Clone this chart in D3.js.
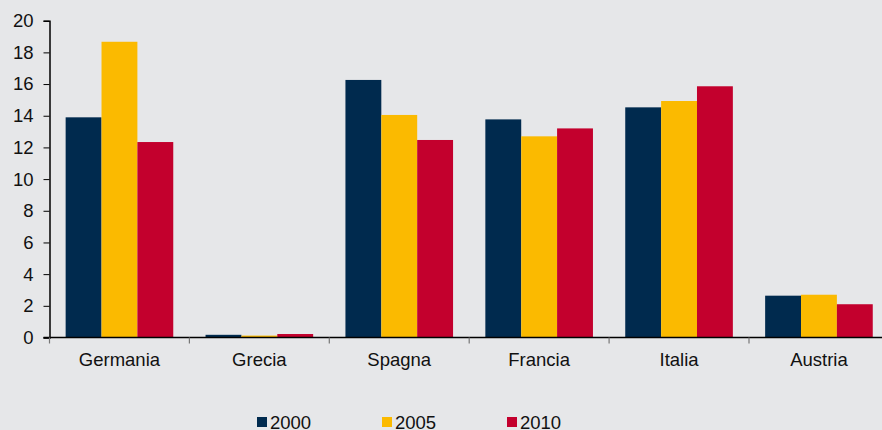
<!DOCTYPE html>
<html>
<head>
<meta charset="utf-8">
<script src="https://cdn.jsdelivr.net/npm/d3@7"></script>
<style>
  html, body { margin: 0; padding: 0; background: #e6e7e9; }
  svg { display: block; font-family: "Liberation Sans", Arial, sans-serif; }
</style>
</head>
<body>
<div id="chart"></div>
<script>
const categories = ["Germania", "Grecia", "Spagna", "Francia", "Italia", "Austria"];
const seriesNames = ["2000", "2005", "2010"];
const values2000 = [13.9, 0.17, 16.26, 13.77, 14.53, 2.64];
const values2005 = [18.67, 0.12, 14.05, 12.7, 14.93, 2.7];
const values2010 = [12.34, 0.22, 12.47, 13.2, 15.86, 2.1];
const yTicks = [0, 2, 4, 6, 8, 10, 12, 14, 16, 18, 20];
const colors = ["#002a4e", "#fbba00", "#c3002d"];

const series = [values2000, values2005, values2010];
const data = categories.map((c, i) => ({
  cat: c,
  vals: seriesNames.map((s, j) => ({ key: s, value: series[j][i], color: colors[j] }))
}));

const width = 882, height = 430;
const margin = { left: 49.5, top: 20.7 };
const plotBottom = 337.5;
const bandW = 139.9;
const fontSize = 18.5;

const svg = d3.select("#chart").append("svg")
  .attr("width", width).attr("height", height);

svg.append("rect").attr("width", width).attr("height", height).attr("fill", "#e6e7e9");

const x = d3.scaleBand()
  .domain(categories)
  .range([margin.left, margin.left + bandW * categories.length])
  .paddingInner(0).paddingOuter(0);

// bars inside a group, ~16px gap on each side of the group
const x1 = d3.scaleBand()
  .domain(seriesNames)
  .range([0, x.bandwidth()])
  .paddingOuter(0.45).paddingInner(0);

const y = d3.scaleLinear().domain([0, 20]).range([plotBottom, margin.top]);

// bars
const groups = svg.selectAll(".grp").data(data).enter().append("g")
  .attr("class", "grp")
  .attr("transform", d => `translate(${x(d.cat)},0)`);

groups.selectAll("rect").data(d => d.vals).enter().append("rect")
  .attr("x", d => x1(d.key))
  .attr("width", x1.bandwidth())
  .attr("y", d => y(d.value))
  .attr("height", d => plotBottom - y(d.value))
  .attr("fill", d => d.color);

// y axis
const yAxis = svg.append("g")
  .attr("transform", `translate(${margin.left},0)`)
  .call(d3.axisLeft(y).tickValues(yTicks).tickSize(6).tickPadding(10));
yAxis.select(".domain").attr("stroke", "#000").attr("stroke-width", 1.5);
yAxis.selectAll(".tick line").attr("stroke", "#000");
yAxis.selectAll(".tick text")
  .attr("font-size", fontSize).attr("fill", "#111")
  .attr("font-family", "Liberation Sans, Arial, sans-serif");

// x axis
const xTickPos = categories.map(c => x(c)).concat([x.range()[1]]);
const xAxis = svg.append("g").attr("transform", `translate(0,${plotBottom})`);
xAxis.append("line")
  .attr("x1", margin.left - 6).attr("x2", x.range()[1])
  .attr("stroke", "#000").attr("stroke-width", 1.5);
xAxis.selectAll(".xt").data(xTickPos).enter().append("line")
  .attr("x1", d => d).attr("x2", d => d)
  .attr("y1", 0).attr("y2", 6)
  .attr("stroke", "#777").attr("stroke-width", 1.2);
xAxis.selectAll(".xl").data(categories).enter().append("text")
  .attr("x", d => x(d) + x.bandwidth() / 2)
  .attr("y", 28)
  .attr("text-anchor", "middle")
  .attr("font-size", fontSize).attr("fill", "#111")
  .text(d => d);

// legend
const legend = svg.append("g").attr("transform", "translate(257,0)");
const items = legend.selectAll("g").data(seriesNames).enter().append("g")
  .attr("transform", (d, i) => `translate(${i * 125},0)`);
items.append("rect")
  .attr("x", 0).attr("y", 417).attr("width", 10).attr("height", 10)
  .attr("fill", (d, i) => colors[i]);
items.append("text")
  .attr("x", 13).attr("y", 428.5)
  .attr("font-size", fontSize).attr("fill", "#111")
  .text(d => d);
</script>
</body>
</html>
